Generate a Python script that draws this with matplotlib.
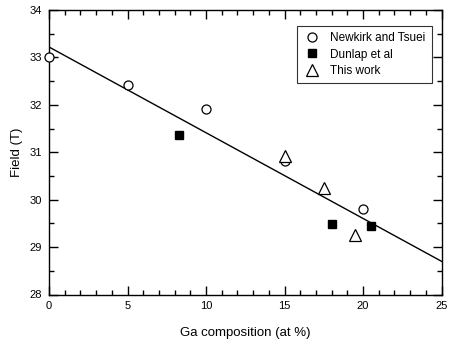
import numpy as np
import matplotlib.pyplot as plt
from matplotlib.ticker import MultipleLocator

plt.rcParams['font.family'] = ['Liberation Sans', 'DejaVu Sans']

# Newkirk and Tsuei
nt_x = [0, 5, 10, 15, 20]
nt_y = [33.0, 32.42, 31.91, 30.81, 29.81]
# Dunlap et al
du_x = [8.3, 18.0, 20.5]
du_y = [31.37, 29.49, 29.44]
# This work
tw_x = [15, 17.5, 19.5]
tw_y = [30.93, 30.25, 29.25]
# linear fit
fit_x = [0, 25]
fit_y = [33.22, 28.70]

fig = plt.figure(figsize=(4.49, 3.44), dpi=100)
ax = fig.add_axes([49/449, 1 - 294.5/344, 392.5/449, 284.5/344])

ax.plot(fit_x, fit_y, color='black', lw=1.0, zorder=2)
ax.plot(nt_x, nt_y, 'o', mfc='white', mec='black', mew=0.9, ms=6.5,
        label='Newkirk and Tsuei', clip_on=False, zorder=3)
ax.plot(du_x, du_y, 's', mfc='black', mec='black', ms=6,
        label='Dunlap et al', clip_on=False, zorder=3)
ax.plot(tw_x, tw_y, '^', mfc='white', mec='black', mew=0.9, ms=8,
        label='This work', clip_on=False, zorder=4)

ax.set_xlim(0, 25)
ax.set_ylim(28, 34)
ax.xaxis.set_major_locator(MultipleLocator(5))
ax.xaxis.set_minor_locator(MultipleLocator(1))
ax.yaxis.set_major_locator(MultipleLocator(1))
ax.yaxis.set_minor_locator(MultipleLocator(0.5))
ax.tick_params(which='both', direction='in', top=True, right=True,
               labelsize=8, width=1.0)
ax.tick_params(which='major', length=6.5, pad=5)
ax.tick_params(which='minor', length=3.3)
for s in ax.spines.values():
    s.set_linewidth(1.0)

ax.set_xlabel('Ga composition (at %)', fontsize=9.5, labelpad=11)
ax.set_ylabel('Field (T)', fontsize=9.5, labelpad=5)

leg = ax.legend(loc='upper right', bbox_to_anchor=(0.976, 0.944), fontsize=8.5,
                frameon=True, fancybox=False, edgecolor='black',
                borderaxespad=0, handletextpad=0.8, borderpad=0.55,
                labelspacing=0.35, handlelength=1.5)
leg.get_frame().set_linewidth(0.8)

fig.savefig('out.png', dpi=100)
